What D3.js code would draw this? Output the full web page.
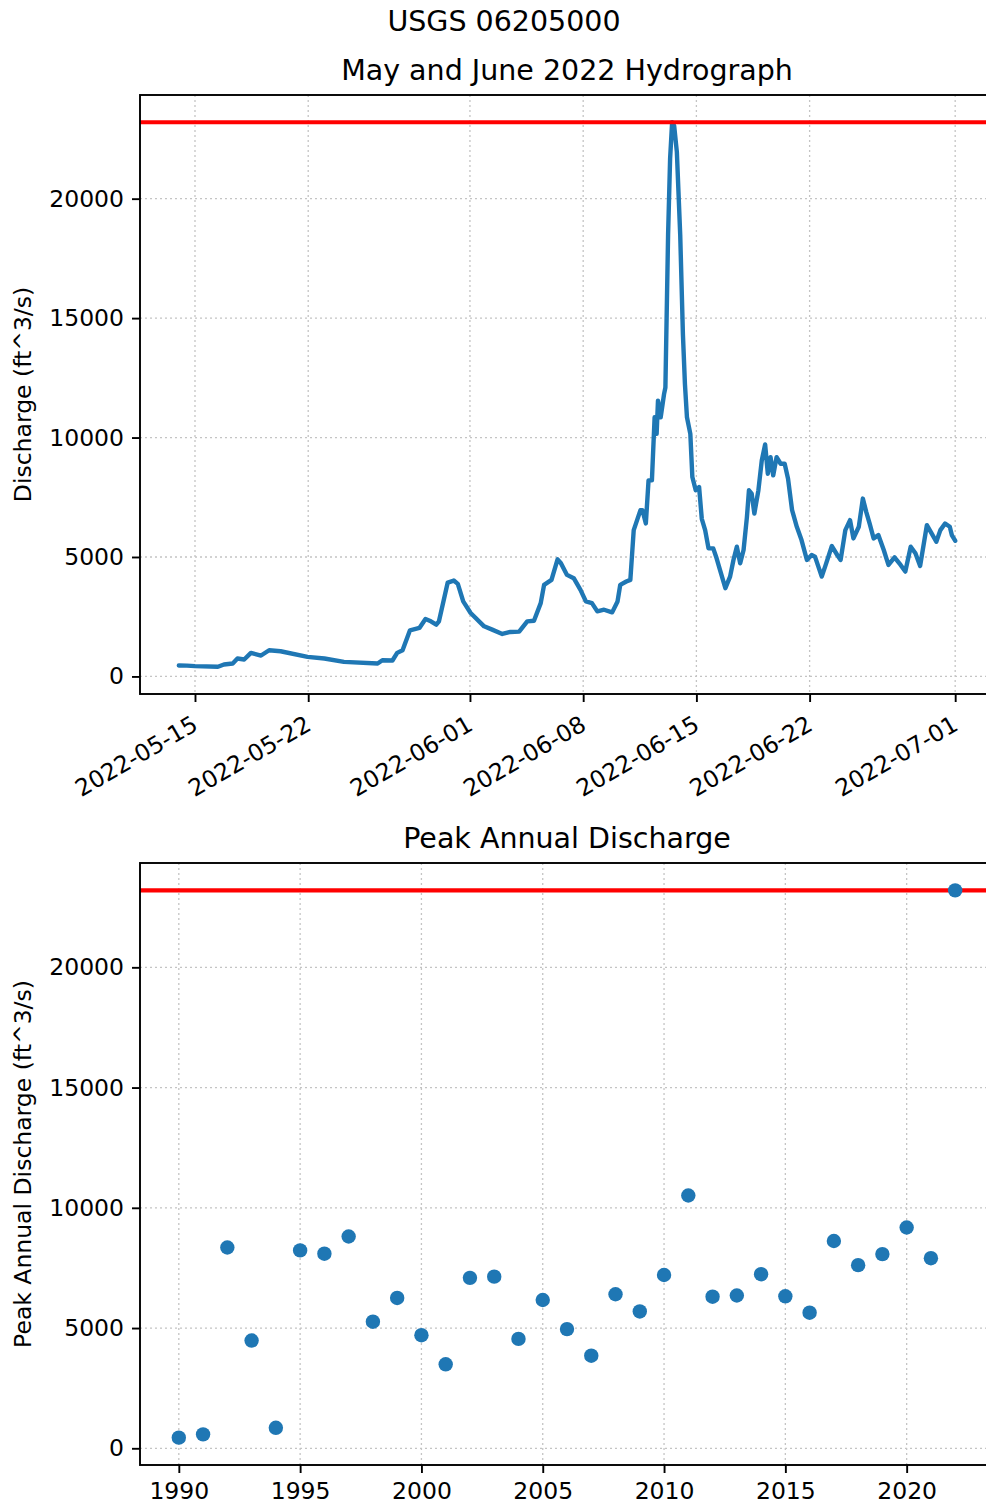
<!DOCTYPE html>
<html>
<head>
<meta charset="utf-8">
<script src="https://cdn.jsdelivr.net/npm/d3@7"></script>
<style>
  body { margin: 0; background: #fff; }
  svg { display: block; }
  text { font-family: "DejaVu Sans", sans-serif; fill: #000; }
</style>
</head>
<body>
<svg id="fig" width="986" height="1505"></svg>
<script>
// ---- Streamflow at USGS 06205000, May–June 2022 (ft^3/s) ----
const hydroTimes = [
  "2022-05-14T00:00","2022-05-14T12:00","2022-05-15T00:00","2022-05-16T10:00","2022-05-16T19:00",
  "2022-05-17T08:00","2022-05-17T15:00","2022-05-18T01:00","2022-05-18T11:00","2022-05-19T02:00",
  "2022-05-19T14:00","2022-05-20T07:00","2022-05-21T23:00","2022-05-23T00:00","2022-05-24T05:00",
  "2022-05-26T07:00","2022-05-26T14:00","2022-05-27T05:00","2022-05-27T12:00","2022-05-27T20:00",
  "2022-05-28T07:00","2022-05-28T21:00","2022-05-29T06:00","2022-05-29T14:00","2022-05-29T22:00",
  "2022-05-30T02:00","2022-05-30T15:00","2022-05-31T00:00","2022-05-31T06:00","2022-05-31T14:00",
  "2022-06-01T01:00","2022-06-01T21:00","2022-06-02T09:00","2022-06-03T00:00","2022-06-03T12:00",
  "2022-06-04T01:00","2022-06-04T13:00","2022-06-04T23:00","2022-06-05T09:00","2022-06-05T14:00",
  "2022-06-06T01:00","2022-06-06T10:00","2022-06-06T15:00","2022-06-07T00:00","2022-06-07T10:00",
  "2022-06-07T20:00","2022-06-08T04:00","2022-06-08T13:00","2022-06-08T21:00","2022-06-09T07:00",
  "2022-06-09T19:00","2022-06-10T03:00","2022-06-10T07:00","2022-06-10T16:00","2022-06-10T22:00",
  "2022-06-11T03:00","2022-06-11T08:00","2022-06-11T13:00","2022-06-11T16:00","2022-06-11T21:00",
  "2022-06-12T01:00","2022-06-12T06:00","2022-06-12T10:00","2022-06-12T13:00","2022-06-12T15:00",
  "2022-06-12T19:00","2022-06-13T00:00","2022-06-13T02:00","2022-06-13T06:00","2022-06-13T09:00",
  "2022-06-13T12:00","2022-06-13T15:00","2022-06-13T19:00","2022-06-14T00:00","2022-06-14T04:00",
  "2022-06-14T07:00","2022-06-14T10:00","2022-06-14T15:00","2022-06-14T18:00","2022-06-14T23:00",
  "2022-06-15T04:00","2022-06-15T08:00","2022-06-15T13:00","2022-06-15T18:00","2022-06-16T01:00",
  "2022-06-16T06:00","2022-06-16T11:00","2022-06-16T19:00","2022-06-17T02:00","2022-06-17T07:00",
  "2022-06-17T12:00","2022-06-17T17:00","2022-06-17T22:00","2022-06-18T03:00","2022-06-18T06:00",
  "2022-06-18T10:00","2022-06-18T14:00","2022-06-18T20:00","2022-06-19T01:00","2022-06-19T06:00",
  "2022-06-19T10:00","2022-06-19T14:00","2022-06-19T18:00","2022-06-19T23:00","2022-06-20T05:00",
  "2022-06-20T11:00","2022-06-20T16:00","2022-06-20T22:00","2022-06-21T05:00","2022-06-21T12:00",
  "2022-06-21T20:00","2022-06-22T03:00","2022-06-22T08:00","2022-06-22T13:00","2022-06-22T18:00",
  "2022-06-22T23:00","2022-06-23T09:00","2022-06-23T17:00","2022-06-23T22:00","2022-06-24T05:00",
  "2022-06-24T12:00","2022-06-24T17:00","2022-06-25T01:00","2022-06-25T07:00","2022-06-25T12:00",
  "2022-06-25T17:00","2022-06-25T23:00","2022-06-26T06:00","2022-06-26T14:00","2022-06-26T21:00",
  "2022-06-27T06:00","2022-06-27T15:00","2022-06-27T22:00","2022-06-28T06:00","2022-06-28T13:00",
  "2022-06-28T20:00","2022-06-29T06:00","2022-06-29T13:00","2022-06-29T20:00","2022-06-30T02:00",
  "2022-06-30T09:00","2022-06-30T16:00","2022-06-30T19:00","2022-07-01T00:00"
];
const hydroFlow = [
  458, 450, 430, 404, 500,
  540, 750, 708, 986, 875,
  1097, 1055, 819, 750, 611,
  542, 680, 667, 986, 1097,
  1930, 2028, 2403, 2306, 2167,
  2306, 3930, 4014, 3875, 3139,
  2653, 2097, 1958, 1778, 1861,
  1875, 2306, 2333, 3069, 3833,
  4042, 4903, 4736, 4250, 4111,
  3625, 3139, 3069, 2722, 2792,
  2681, 3139, 3833, 3972, 4042,
  6125, 6542, 6958, 6958, 6403,
  8208, 8208, 10847, 10153, 11542,
  10847, 11820, 12097, 18486, 21680,
  23200, 23050, 21958, 18486, 14320,
  12236, 10847, 10153, 8347, 7792,
  7930, 6600, 6125, 5361, 5361,
  4945, 4458, 3695, 4180, 4875,
  5430, 4736, 5292, 6680, 7792,
  7653, 6820, 7792, 9042, 9708,
  8486, 9180, 8417, 9180, 8903,
  8903, 8278, 6958, 6264, 5708,
  4875, 5083, 5014, 4597, 4180,
  4597, 5458, 5083, 4875, 6125,
  6542, 5778, 6264, 7445, 6889,
  6403, 5778, 5917, 5292, 4667,
  4986, 4667, 4389, 5430, 5153,
  4625, 6333, 5986, 5639, 6125,
  6403, 6264, 5917, 5680
];
const dateTickLabels = ["2022-05-15","2022-05-22","2022-06-01","2022-06-08","2022-06-15","2022-06-22","2022-07-01"];

// ---- Annual peak discharge (ft^3/s) ----
const peakYears = [1990,1991,1992,1993,1994,1995,1996,1997,1998,1999,2000,2001,2002,2003,2004,2005,
                   2006,2007,2008,2009,2010,2011,2012,2013,2014,2015,2016,2017,2018,2019,2020,2021,2022];
const peakFlow = [443, 579, 8348, 4480, 852, 8228, 8092, 8807, 5264, 6252, 4702, 3492, 7087, 7138, 4549, 6167,
                  4957, 3850, 6405, 5690, 7206, 10511, 6303, 6354, 7240, 6320, 5639, 8620, 7615, 8075, 9182, 7905, 23200];
const yearTickLabels = [1990, 1995, 2000, 2005, 2010, 2015, 2020];
const flowTickLabels = [0, 5000, 10000, 15000, 20000];

// 2022 record peak, drawn as a reference line on both panels
const recordPeak = 23200;

// ---- Figure ----
const svg = d3.select("#fig");
const FS_TICK = 23.5, FS_TITLE = 28.5;
const BLUE = "#1f77b4";
const GRID = "#c4c4c4";

const panelTop = { left: 140, right: 994, top: 95, bottom: 694 };
const panelBot = { left: 140, right: 994, top: 863, bottom: 1465 };

// 5% margin on each side of the data range
function padded(lo, hi) {
  const m = (hi - lo) * 0.05;
  return [lo - m, hi + m];
}

svg.append("text")
  .attr("x", 504).attr("y", 31)
  .attr("text-anchor", "middle")
  .attr("font-size", FS_TITLE)
  .text("USGS 06205000");

function yAxis(g, p, y) {
  g.append("g").selectAll("line").data(flowTickLabels).join("line")
    .attr("x1", p.left).attr("x2", p.right)
    .attr("y1", d => y(d)).attr("y2", d => y(d))
    .attr("stroke", GRID).attr("stroke-width", 1.3).attr("stroke-dasharray", "2,3");
  const ax = g.append("g").attr("transform", `translate(${p.left},0)`)
    .call(d3.axisLeft(y).tickValues(flowTickLabels).tickFormat(d3.format("d"))
      .tickSize(8).tickPadding(8));
  ax.select(".domain").remove();
  ax.selectAll(".tick line").attr("stroke", "#000").attr("stroke-width", 1.9);
  ax.selectAll(".tick text").attr("font-size", FS_TICK).attr("font-family", "DejaVu Sans").attr("fill", "#000");
}

function spines(g, p) {
  g.append("rect")
    .attr("x", p.left).attr("y", p.top)
    .attr("width", p.right - p.left).attr("height", p.bottom - p.top)
    .attr("fill", "none").attr("stroke", "#000").attr("stroke-width", 1.9);
}

function titles(p, title, ylabel, titleY) {
  svg.append("text")
    .attr("x", (p.left + p.right) / 2).attr("y", titleY)
    .attr("text-anchor", "middle").attr("font-size", FS_TITLE)
    .text(title);
  svg.append("text")
    .attr("transform", `translate(31,${(p.top + p.bottom) / 2}) rotate(-90)`)
    .attr("text-anchor", "middle").attr("font-size", FS_TICK)
    .text(ylabel);
}

function clipFor(id, p) {
  svg.append("clipPath").attr("id", id).append("rect")
    .attr("x", p.left).attr("y", p.top)
    .attr("width", p.right - p.left).attr("height", p.bottom - p.top);
}

// ---- Panel 1: hydrograph ----
{
  const p = panelTop;
  const parse = d3.utcParse("%Y-%m-%dT%H:%M");
  const series = hydroTimes.map((t, i) => ({ t: parse(t), q: hydroFlow[i] }));
  const tExt = d3.extent(series, d => d.t);
  const tPad = (tExt[1] - tExt[0]) * 0.05;
  const x = d3.scaleUtc()
    .domain([new Date(+tExt[0] - tPad), new Date(+tExt[1] + tPad)])
    .range([p.left, p.right]);
  const qLo = d3.min(hydroFlow), qHi = Math.max(d3.max(hydroFlow), recordPeak);
  const y = d3.scaleLinear().domain(padded(qLo, qHi)).range([p.bottom, p.top]);

  const g = svg.append("g");
  const ticks = dateTickLabels.map(d3.utcParse("%Y-%m-%d"));
  g.append("g").selectAll("line").data(ticks).join("line")
    .attr("x1", d => x(d)).attr("x2", d => x(d))
    .attr("y1", p.top).attr("y2", p.bottom)
    .attr("stroke", GRID).attr("stroke-width", 1.3).attr("stroke-dasharray", "2,3");
  yAxis(g, p, y);

  const xa = g.append("g").attr("transform", `translate(0,${p.bottom})`)
    .call(d3.axisBottom(x).tickValues(ticks).tickFormat(d3.utcFormat("%Y-%m-%d"))
      .tickSize(8).tickPadding(8));
  xa.select(".domain").remove();
  xa.selectAll(".tick line").attr("stroke", "#000").attr("stroke-width", 1.9);
  xa.selectAll(".tick text")
    .attr("font-size", FS_TICK).attr("font-family", "DejaVu Sans").attr("fill", "#000")
    .attr("y", 0).attr("dy", null)
    .attr("text-anchor", "end")
    .attr("transform", "translate(4,35) rotate(-30)");

  clipFor("clipTop", p);
  const plot = g.append("g").attr("clip-path", "url(#clipTop)");
  plot.append("path").datum(series)
    .attr("fill", "none").attr("stroke", BLUE).attr("stroke-width", 4.4)
    .attr("stroke-linejoin", "round").attr("stroke-linecap", "round")
    .attr("d", d3.line().x(d => x(d.t)).y(d => y(d.q)));
  plot.append("line")
    .attr("x1", p.left).attr("x2", p.right)
    .attr("y1", y(recordPeak)).attr("y2", y(recordPeak))
    .attr("stroke", "#ff0000").attr("stroke-width", 4.2);

  spines(g, p);
  titles(p, "May and June 2022 Hydrograph", "Discharge (ft^3/s)", 80);
}

// ---- Panel 2: annual peaks ----
{
  const p = panelBot;
  const x = d3.scaleLinear().domain(padded(d3.min(peakYears), d3.max(peakYears))).range([p.left, p.right]);
  const y = d3.scaleLinear()
    .domain(padded(d3.min(peakFlow), Math.max(d3.max(peakFlow), recordPeak)))
    .range([p.bottom, p.top]);

  const g = svg.append("g");
  g.append("g").selectAll("line").data(yearTickLabels).join("line")
    .attr("x1", d => x(d)).attr("x2", d => x(d))
    .attr("y1", p.top).attr("y2", p.bottom)
    .attr("stroke", GRID).attr("stroke-width", 1.3).attr("stroke-dasharray", "2,3");
  yAxis(g, p, y);

  const xa = g.append("g").attr("transform", `translate(0,${p.bottom})`)
    .call(d3.axisBottom(x).tickValues(yearTickLabels).tickFormat(d3.format("d"))
      .tickSize(8).tickPadding(9));
  xa.select(".domain").remove();
  xa.selectAll(".tick line").attr("stroke", "#000").attr("stroke-width", 1.9);
  xa.selectAll(".tick text").attr("font-size", FS_TICK).attr("font-family", "DejaVu Sans").attr("fill", "#000");

  clipFor("clipBot", p);
  const plot = g.append("g").attr("clip-path", "url(#clipBot)");
  plot.append("line")
    .attr("x1", p.left).attr("x2", p.right)
    .attr("y1", y(recordPeak)).attr("y2", y(recordPeak))
    .attr("stroke", "#ff0000").attr("stroke-width", 4.2);
  plot.selectAll("circle").data(peakYears).join("circle")
    .attr("cx", d => x(d))
    .attr("cy", (d, i) => y(peakFlow[i]))
    .attr("r", 7.2)
    .attr("fill", BLUE);

  spines(g, p);
  titles(p, "Peak Annual Discharge", "Peak Annual Discharge (ft^3/s)", 848);
}
</script>
</body>
</html>
